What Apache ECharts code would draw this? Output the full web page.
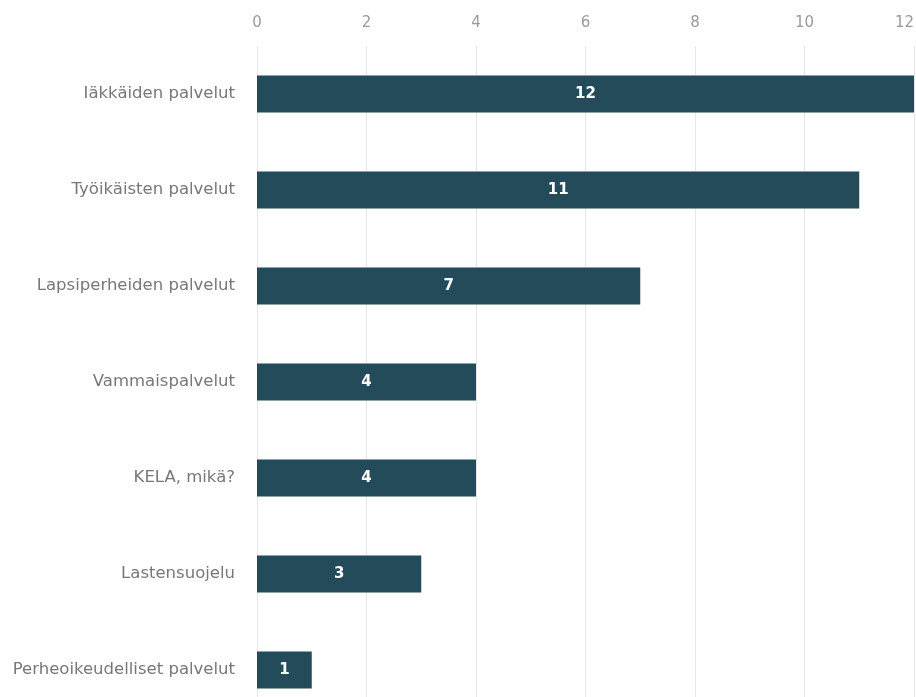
<!DOCTYPE html>
<html>
<head>
<meta charset="utf-8">
<script src="https://cdn.jsdelivr.net/npm/echarts@6/dist/echarts.min.js"></script>
<style>
  html, body { margin: 0; padding: 0; background: #fff; }
  #chart { width: 916px; height: 697px; }
</style>
</head>
<body>
<div id="chart"></div>
<script>
// palvelualueet ja vastausten määrät
const categories = [
  'Iäkkäiden palvelut',
  'Työikäisten palvelut',
  'Lapsiperheiden palvelut',
  'Vammaispalvelut',
  'KELA, mikä?',
  'Lastensuojelu',
  'Perheoikeudelliset palvelut'
];
const counts = [12, 11, 7, 4, 4, 3, 1];
const xTicks = [0, 2, 4, 6, 8, 10, 12];

const myChart = echarts.init(document.getElementById('chart'));

const option = {
  animation: false,
  textStyle: { fontFamily: '"DejaVu Sans", sans-serif' },
  grid: {
    left: 257,
    right: 2,
    top: 46,
    height: 672,
    outerBoundsMode: 'none', // ei kutisteta ruudukkoa reunojen sisään
    containLabel: false
  },
  xAxis: {
    type: 'value',
    position: 'top',
    min: xTicks[0],
    max: xTicks[xTicks.length - 1],
    interval: 2,
    axisLine: { show: false },
    axisTick: { show: false },
    axisLabel: {
      color: '#9a9a9a',
      fontSize: 15,
      margin: 15,
      alignMaxLabel: 'right'
    },
    splitLine: { lineStyle: { color: '#e6e6e6', width: 1 } }
  },
  yAxis: {
    type: 'category',
    inverse: true,
    data: categories,
    axisLine: { show: false },
    axisTick: { show: false },
    axisLabel: { color: '#777', fontSize: 16.5, margin: 22 }
  },
  series: [
    {
      type: 'bar',
      data: counts,
      barWidth: 37,
      itemStyle: { color: '#244b5a' },
      label: {
        show: true,
        position: 'inside',
        color: '#fff',
        fontWeight: 'bold',
        fontSize: 15
      }
    }
  ]
};

myChart.setOption(option);
</script>
</body>
</html>
